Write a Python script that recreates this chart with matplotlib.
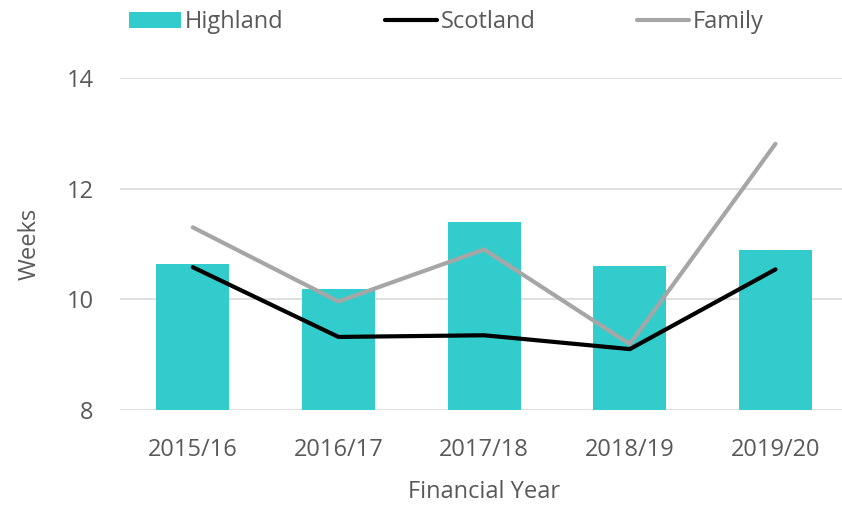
import matplotlib.pyplot as plt
import numpy as np

years = ['2015/16', '2016/17', '2017/18', '2018/19', '2019/20']
highland = [10.64, 10.18, 11.39, 10.6, 10.89]
scotland = [10.58, 9.32, 9.35, 9.1, 10.54]
family = [11.3, 9.96, 10.9, 9.19, 12.81]

plt.rcParams['font.family'] = ['Open Sans', 'DejaVu Sans']
text_col = '#595959'
fs = 17

fig = plt.figure(figsize=(8.42, 5.09), dpi=100)
ax = fig.add_axes([0.1425, 0.1945, 0.865, 0.6525])

x = np.arange(len(years))
b = ax.bar(x, highland, width=0.5, color='#33CCCC', label='Highland', zorder=2)
l1, = ax.plot(x, scotland, color='black', lw=3, label='Scotland', zorder=3, solid_capstyle='round')
l2, = ax.plot(x, family, color='#A6A6A6', lw=3, label='Family', zorder=3, solid_capstyle='round')

ax.set_ylim(8, 14)
ax.set_yticks([8, 10, 12, 14])
ax.set_xlim(-0.5, len(years) - 0.5)
ax.set_xticks(x)
ax.set_xticklabels(years)
ax.grid(axis='y', color='#D9D9D9', lw=1.2, zorder=0)
for s in ax.spines.values():
    s.set_visible(False)
ax.tick_params(axis='both', length=0, labelsize=fs, colors=text_col)
ax.tick_params(axis='x', pad=20)
ax.tick_params(axis='y', pad=19)
ax.set_ylabel('Weeks', fontsize=fs, color=text_col, labelpad=18)
ax.set_xlabel('Financial Year', fontsize=fs, color=text_col, labelpad=13)

fig.legend([b, l1, l2], ['Highland', 'Scotland', 'Family'], loc='upper center',
           bbox_to_anchor=(0.53, 1.022), ncol=3, frameon=False,
           fontsize=fs, labelcolor=text_col, handlelength=2.2, handletextpad=0.15,
           columnspacing=4.3)

fig.savefig('out.png', dpi=100)
